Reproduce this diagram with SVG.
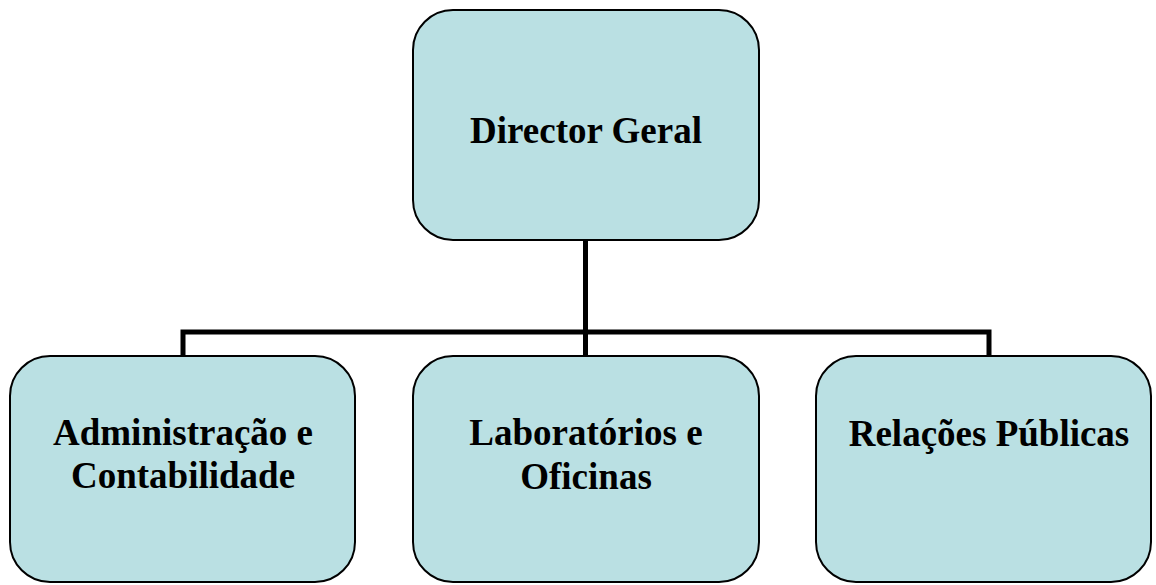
<svg xmlns="http://www.w3.org/2000/svg" width="1156" height="585" viewBox="0 0 1156 585">
<style>
.box{fill:#BAE0E3;stroke:#000;stroke-width:2}
.lbl{font-family:"Liberation Serif","Times New Roman",serif;font-weight:bold;font-size:37px;fill:#000;text-anchor:middle}
.conn{fill:none;stroke:#000;stroke-width:5}
</style>
<rect width="1156" height="585" fill="#fff"/>
<g id="connectors">
<path class="conn" d="M585.5 240V356"/>
<path class="conn" d="M183 357V332H989V357"/>
</g>
<g id="director">
<rect class="box" x="413" y="10" width="346" height="230" rx="40"/>
<text class="lbl" x="586" y="143">Director Geral</text>
</g>
<g id="administracao">
<rect class="box" x="10" y="356" width="345" height="226" rx="40"/>
<text class="lbl" x="183" y="445">Administração e</text>
<text class="lbl" x="183" y="488">Contabilidade</text>
</g>
<g id="laboratorios">
<rect class="box" x="413" y="356" width="346" height="226" rx="40"/>
<text class="lbl" x="586" y="445">Laboratórios e</text>
<text class="lbl" x="586" y="489">Oficinas</text>
</g>
<g id="relacoes">
<rect class="box" x="816" y="356" width="335" height="226" rx="40"/>
<text class="lbl" x="989" y="446">Relações Públicas</text>
</g>
</svg>
